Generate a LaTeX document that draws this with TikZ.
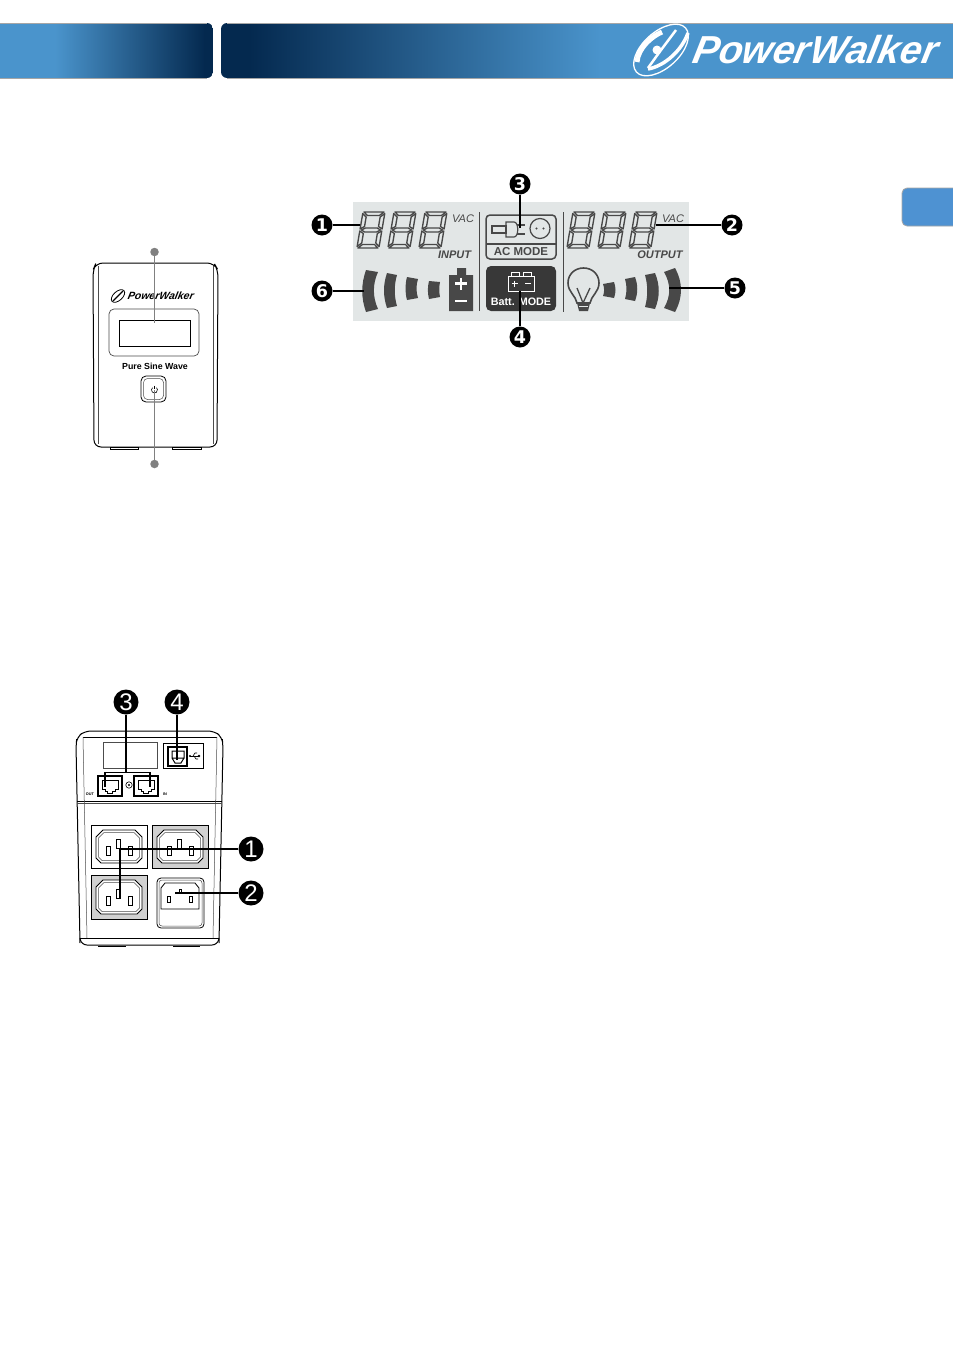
\documentclass[tikz,border=0pt]{standalone}
\usepackage{fontspec}
\setmainfont{Liberation Sans}
\newfontfamily\callfont{DejaVu Sans}
\usetikzlibrary{calc}
\definecolor{hblue}{HTML}{4A94CC}
\definecolor{hdark}{HTML}{04294F}
\definecolor{tabblue}{HTML}{4E92D2}
\definecolor{lcdbg}{HTML}{E2E6E6}
\definecolor{lcdink}{HTML}{484848}
\definecolor{dotgray}{HTML}{808080}
\tikzset{
  x=1pt,y=-1pt,
  calla/.style={circle,fill=black,text=white,inner sep=0pt,minimum size=21pt,font=\callfont\bfseries\fontsize{17.5}{17.5}\selectfont},
  callb/.style={circle,fill=black,text=white,inner sep=0pt,minimum size=25pt,font=\fontsize{24}{24}\selectfont},
  lead/.style={draw=black,line width=1.3pt},
  leadb/.style={draw=black,line width=1.6pt},
  lcdtxt/.style={text=lcdink,inner sep=0pt,font=\bfseries\itshape\fontsize{11}{12}\selectfont},
  lcdvac/.style={text=lcdink,inner sep=0pt,font=\itshape\fontsize{11}{11}\selectfont},
  seg/.style={draw=lcdink,line width=1.35pt,line join=round},
  unit/.style={draw=black,line width=0.8pt},
  thinunit/.style={draw=black!70,line width=0.5pt},
  plain/.style={inner sep=0pt},
}
\newcommand\lcddig[2]{%
 \begin{scope}[shift={(#1,#2)},xslant=0.17]
  \draw[seg] (3,0)--(23,0)--(19,3.5)--(7,3.5)--cycle;
  \draw[seg] (2,1.5)--(6,5)--(6,14.5)--(2,17)--cycle;
  \draw[seg] (24,1.5)--(20,5)--(20,14.5)--(24,17)--cycle;
  \draw[seg] (3.5,18)--(7,16)--(19,16)--(22.5,18)--(19,20)--(7,20)--cycle;
  \draw[seg] (2,19)--(6,21.5)--(6,31)--(2,34.5)--cycle;
  \draw[seg] (24,19)--(20,21.5)--(20,31)--(24,34.5)--cycle;
  \draw[seg] (7,32.5)--(19,32.5)--(23,36)--(3,36)--cycle;
 \end{scope}}
\newcommand\arcbar[8]{%
 \fill[lcdink] (#1,#3) -- (#2,#4) .. controls ({#6},{#4+(#7-#4)/3}) and ({#6},{#7-(#7-#4)/3}) .. (#2,#7)
   -- (#1,#8) .. controls ({#5},{#8-(#8-#3)/3}) and ({#5},{#3+(#8-#3)/3}) .. (#1,#3) -- cycle;}
\newcommand\iecoutlet[4]{%
 \begin{scope}[shift={(#1,#2)}]
  \draw[unit,fill=#3] (0,0) rectangle (56,#4);
  \draw[unit,fill=white] (12,5)--(44,5)--(51,12)--(51,{#4-10})--(46,{#4-5})--(10,{#4-5})--(5,{#4-10})--(5,12)--cycle;
  \draw[thinunit] (13,7.5)--(43,7.5)--(48.5,13)--(48.5,{#4-11})--(45,{#4-7.5})--(11,{#4-7.5})--(7.5,{#4-11})--(7.5,13)--cycle;
  \draw[unit] (15,21) rectangle (19,30);
  \draw[unit] (25,14) rectangle (29,23);
  \draw[unit] (37,21) rectangle (41,30);
 \end{scope}}
\newcommand\rjport[2]{%
 \begin{scope}[shift={(#1,#2)}]
  \draw[black,line width=1.1pt] (0,0) rectangle (24,20);
  \draw[unit] (4,4)--(20,4)--(20,13)--(17,13)--(17,15.5)--(14.5,15.5)--(14.5,17.5)--(9.5,17.5)--(9.5,15.5)--(7,15.5)--(7,13)--(4,13)--cycle;
 \end{scope}}
\begin{document}
\begin{tikzpicture}
\useasboundingbox (0,0) rectangle (953,1352);
\fill[white] (0,0) rectangle (953,1352);
% ---------- header
\begin{scope}
 \clip[rounded corners=6pt] (-10,23) rectangle (213,78);
 \fill[hblue] (-10,23) rectangle (56,78);
 \shade[left color=hblue,right color=hdark,shading angle=90] (55,23) rectangle (205,78);
 \fill[hdark] (204,23) rectangle (213,78);
\end{scope}
\begin{scope}
 \clip[rounded corners=6pt] (221,23) rectangle (963,78);
 \fill[hdark] (221,23) rectangle (250,78);
 \shade[left color=hdark,right color=hblue,shading angle=90] (249,23) rectangle (600,78);
 \fill[hblue] (599,23) rectangle (963,78);
\end{scope}
\draw[black!35,line width=0.6pt] (0,23)--(207,23) (227,23)--(953,23) (0,78)--(207,78) (227,78)--(953,78);
% header logo
\draw[white,line width=1.3pt,rotate around={42:(661,50)}] (661,50) ellipse [x radius=33pt,y radius=18pt];
\draw[white,line width=5pt] (637,62) .. controls (638,48) and (652,36) .. (662,32);
\draw[white,line width=2.5pt] (648,68) -- (661,50) -- (676,30);
\fill[white] (657,50) circle (4.5pt);
\draw[white,line width=3.5pt] (648,69) .. controls (665,66) and (682,50) .. (688,33);
\node[plain,text=white,anchor=center,xslant=0.2,transform shape] (hlogo) at (816,50)
  {\fontsize{39}{39}\selectfont\bfseries\itshape PowerWalker};
% side tab
\begin{scope}
 \clip (890,180) rectangle (953,235);
 \draw[fill=tabblue,draw=black!35,line width=0.8pt,rounded corners=5pt] (902,188) rectangle (970,226);
\end{scope}
% ---------- LCD panel
\fill[lcdbg] (353,202) rectangle (689,321);
\foreach \xx in {361,392,423} {\lcddig{\xx}{212}}
\foreach \xx in {571,602,633} {\lcddig{\xx}{212}}
\draw[lcdink,line width=0.9pt] (479,212)--(479,311) (563,212)--(563,312);
\node[lcdvac] (vaci) at (463,218.5) {VAC};
\node[lcdvac] (vaco) at (673,218.5) {VAC};
\node[lcdtxt] (inp) at (454.5,255) {INPUT};
\node[lcdtxt] (outp) at (660,255) {OUTPUT};
% AC MODE box
\draw[lcdink,line width=1.5pt,rounded corners=4pt] (486,215) rectangle (556,259);
\draw[lcdink,line width=1.2pt] (486,244)--(556,244);
\node[plain,text=lcdink,font=\bfseries\fontsize{11.5}{12}\selectfont] (acm) at (521,251.5) {AC MODE};
\draw[lcdink,line width=1.2pt] (492,226) rectangle (506,233);
\draw[lcdink,line width=1.2pt] (506,222) -- (514,222) .. controls (519,222) and (519,237) .. (514,237) -- (506,237) -- cycle;
\draw[lcdink,line width=1.6pt] (517,225)--(525,225) (517,234)--(525,234);
\draw[lcdink,line width=1.2pt] (540,228.5) circle (10pt);
\fill[lcdink] (536.5,228.5) circle (1.2pt) (543.5,228.5) circle (1.2pt);
% Batt MODE box
\fill[black!78,rounded corners=5pt] (486,266) rectangle (556,311);
\draw[white,line width=1pt] (508,276) rectangle (534,291);
\draw[white,line width=1pt] (511,276)--(511,272)--(519,272)--(519,276) (523,276)--(523,272)--(531,272)--(531,276);
\draw[white,line width=1pt] (511.5,283.5)--(517.5,283.5) (514.5,280.5)--(514.5,286.5) (525,283.5)--(531,283.5);
\node[plain,text=white,font=\bfseries\fontsize{10.8}{11}\selectfont] (bm) at (521,302) {Batt. MODE};
% bars and battery
\arcbar{366}{378}{270}{272}{361}{372.5}{309}{312}
\arcbar{387}{397}{273}{275}{383}{394}{306}{308}
\arcbar{407}{418}{277}{279}{405}{416}{298}{300}
\arcbar{429}{440}{281}{282}{427.5}{439}{297}{299}
\fill[lcdink] (449,275) rectangle (473,311) (457,268) rectangle (466,275);
\draw[white,line width=2.4pt] (455,283.5)--(467,283.5) (461,277.5)--(461,289.5) (455,301)--(467,301);
\arcbar{675}{664}{268}{272}{683}{671}{308}{312}
\arcbar{655}{645}{273}{275}{660}{648}{307}{309}
\arcbar{635}{625}{277}{279}{638}{627}{299}{301}
\arcbar{614}{603}{282}{284}{616}{604.5}{296}{298}
% bulb
\draw[lcdink,line width=1.6pt] (577,303) .. controls (576,296) and (568,292) .. (568,283) .. controls (568,274) and (575,268) .. (583.5,268) .. controls (592,268) and (599,274) .. (599,283) .. controls (599,292) and (591,296) .. (590,303) -- cycle;
\draw[lcdink,line width=1.3pt] (577,288)--(583,303)--(590,288);
\fill[lcdink] (577,303)--(590,303)--(588,311)--(579,311)--cycle;
\draw[lcdbg,line width=0.8pt] (579,306)--(588,306);
% LCD callouts
\node[calla] (l1) at (322,225) {1};
\node[calla] (l2) at (732,225) {2};
\node[calla] (l3) at (520,184) {3};
\node[calla] (l4) at (520,337) {4};
\node[calla] (l5) at (735,288) {5};
\node[calla] (l6) at (322,291) {6};
\coordinate (t1) at (360,225);
\coordinate (t2) at (656,225);
\coordinate (t3) at (520,228);
\coordinate (t4) at (520,291);
\coordinate (t5) at (669,288);
\coordinate (t6) at (364,291);
\draw[lead] (l1)--(t1);
\draw[lead] (l2)--(t2);
\draw[lead] (l3)--(t3);
\draw[lead] (l4)--(t4);
\draw[lead] (l5)--(t5);
\draw[lead] (l6)--(t6);
% ---------- front view
\draw[unit,line width=1pt,rounded corners=7pt] (94,447) -- (93,270) -- (96,263) -- (214,263) -- (218,270) -- (217,447) -- cycle;
\draw[thinunit] (98,266)--(98,444) (213,266)--(213,444);
\draw[unit,line width=1pt] (110,447) rectangle (138,449) (172,447) rectangle (201,449);
\draw[thinunit,line width=0.7pt,rounded corners=5pt] (109,309) rectangle (199,356);
\node[plain,xslant=0.2,transform shape,font=\bfseries\itshape\fontsize{10.5}{11}\selectfont] (flogo) at (161,296) {PowerWalker};
\draw[line width=0.8pt,rotate around={42:(118,296)}] (118,296) ellipse [x radius=8pt,y radius=4.5pt];
\draw[line width=1.2pt] (113,301)--(123,291);
\draw[unit,line width=1pt] (119,320) rectangle (190,346);
\node[plain,font=\bfseries\fontsize{8.8}{9}\selectfont] (psw) at (155,366) {Pure Sine Wave};
\draw[unit,rounded corners=5pt] (141,376) rectangle (166,402);
\draw[thinunit,rounded corners=4pt] (143.5,378.5) rectangle (163.5,399.5);
\draw[black,line width=0.6pt] (152.57,387.7) arc [start angle=-130,end angle=-410,radius=3];
\draw[black,line width=0.6pt] (154.5,385.5)--(154.5,389);
\node[circle,fill=dotgray,inner sep=0pt,minimum size=8.5pt] (ftop) at (154.5,252) {};
\node[circle,fill=dotgray,inner sep=0pt,minimum size=8.5pt] (fbot) at (154.5,464) {};
\coordinate (ftopend) at (154.5,323);
\coordinate (fbotend) at (154.5,390);
\draw[dotgray,line width=0.7pt] (ftop)--(ftopend);
\draw[dotgray,line width=0.7pt] (fbot)--(fbotend);
% ---------- rear view
\draw[unit,line width=1pt,rounded corners=6pt] (80,943) -- (76,745) -- (77,737) -- (85,731) -- (214,731) -- (222,737) -- (223,745) -- (219,943);
\draw[unit,line width=1pt,rounded corners=6pt] (80,938) -- (81,945) -- (218,945) -- (219,938);
\draw[unit] (80,938)--(219,938);
\draw[unit] (83,737)--(217,737);
\draw[unit] (77,801)--(222,801);
\draw[thinunit] (77,803)--(222,803);
\draw[thinunit] (83,737)--(87,938) (217,737)--(213,938);
\draw[unit] (98,946.5)--(126,946.5) (173,946.5)--(200,946.5);
\draw[thinunit,line width=0.7pt] (103,742) rectangle (157,768);
\draw[unit,line width=0.7pt] (163,743) rectangle (203,768);
\draw[black,line width=1.5pt] (168,747) rectangle (187,766);
\draw[unit,line width=1pt] (172,751) rectangle (184,758) (172,758)--(175,763)--(181,763)--(184,758);
\draw[black,line width=0.7pt] (190,756)--(199,756);
\fill[black] (190,756) circle (1.2pt) (199,756) circle (1.4pt);
\draw[black,line width=0.6pt] (193,756)--(195,753)--(197,753) (194,756)--(196,759)--(198,759);
\rjport{98}{776}
\rjport{134}{776}
\draw[unit,line width=0.6pt] (129,785) circle (3.2pt);
\fill[black] (129,785) circle (1.2pt);
\node[plain,font=\bfseries\fontsize{3.8}{4}\selectfont] (rout) at (90,794) {OUT};
\node[plain,font=\bfseries\fontsize{3.8}{4}\selectfont] (rin) at (165,794) {IN};
% outlets
\iecoutlet{91}{825}{white}{43}
\iecoutlet{152}{825}{black!18}{43}
\iecoutlet{91}{875}{black!18}{44}
\draw[unit,fill=white,rounded corners=4pt] (157,878) rectangle (204,928);
\draw[thinunit,rounded corners=3pt] (159,880) rectangle (202,926);
\draw[unit,fill=white] (165,883)--(195,883)--(199,888)--(199,909)--(161,909)--(161,888)--cycle;
\draw[black,line width=0.9pt] (167,896) rectangle (170,902) (179,889) rectangle (181,893) (189.5,896) rectangle (192.5,902);
% rear callouts
\node[callb] (r1) at (251,849) {1};
\node[callb] (r2) at (251,893) {2};
\node[callb] (r3) at (126,702) {3};
\node[callb] (r4) at (177,702) {4};
\coordinate (r1bend) at (120,849);
\coordinate (r1end) at (120,899);
\coordinate (r2end) at (175,893);
\coordinate (r3j) at (126,772.5);
\coordinate (r3l) at (105,772.5);
\coordinate (r3r) at (150,772.5);
\coordinate (r3le) at (105,787);
\coordinate (r3re) at (150,787);
\coordinate (r4end) at (177,760);
\draw[leadb] (r1)--(r1bend)--(r1end);
\draw[leadb] (r2)--(r2end);
\draw[leadb] (r3)--(r3j);
\draw[leadb] (r3le)--(r3l)--(r3r)--(r3re);
\draw[leadb] (r4)--(r4end);
\end{tikzpicture}
\end{document}
